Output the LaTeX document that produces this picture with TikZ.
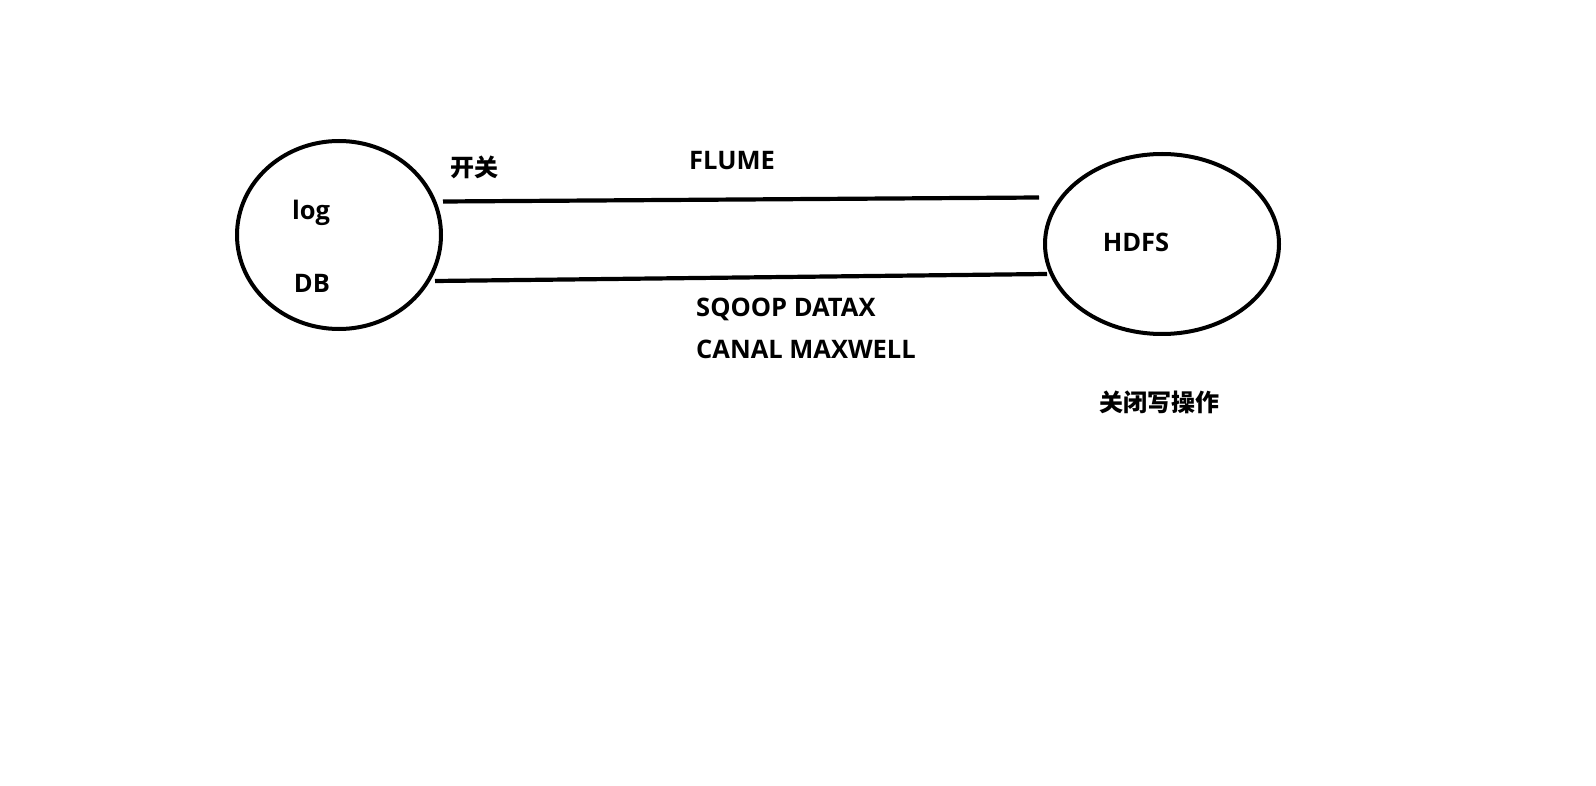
\documentclass[tikz,border=0pt]{standalone}
\usepackage{fontspec}
\setmainfont{Open Sans}
\newfontfamily\cjk{Noto Sans CJK SC}
\usetikzlibrary{shapes.geometric}
\begin{document}
\begin{tikzpicture}[x=1pt,y=-1pt,
  lbl/.style={font=\fontsize{25.5}{28}\selectfont\bfseries, inner sep=0pt},
  clbl/.style={font=\cjk\fontsize{24}{28}\selectfont\bfseries, inner sep=0pt},
  oval/.style={draw, line width=4pt, ellipse, inner sep=0pt},
  link/.style={line width=4.2pt}]
\useasboundingbox (0,0) rectangle (1596,786);
\node[oval, minimum width=204pt, minimum height=188pt] (src) at (339,235) {};
\node[oval, minimum width=234pt, minimum height=180pt] (hdfs) at (1162,244) {};
\coordinate (t1) at (443,201.5);
\coordinate (t2) at (1039,197.5);
\coordinate (b1) at (435,281);
\coordinate (b2) at (1047,274);
\draw[link] (t1) -- (t2);
\draw[link] (b1) -- (b2);
\node[clbl] (kg) at (474,167) {开关};
\node[lbl] (flume) at (732,161) {FLUME};
\node[lbl] (log) at (311,213) {log};
\node[lbl] (db) at (312,283) {DB};
\node[lbl] (hd) at (1136,242) {HDFS};
\node[lbl, anchor=west] (sq) at (696,309) {SQOOP DATAX};
\node[lbl, anchor=west] (cm) at (696,349) {CANAL MAXWELL};
\node[clbl] (gb) at (1159,402) {关闭写操作};
\end{tikzpicture}
\end{document}
